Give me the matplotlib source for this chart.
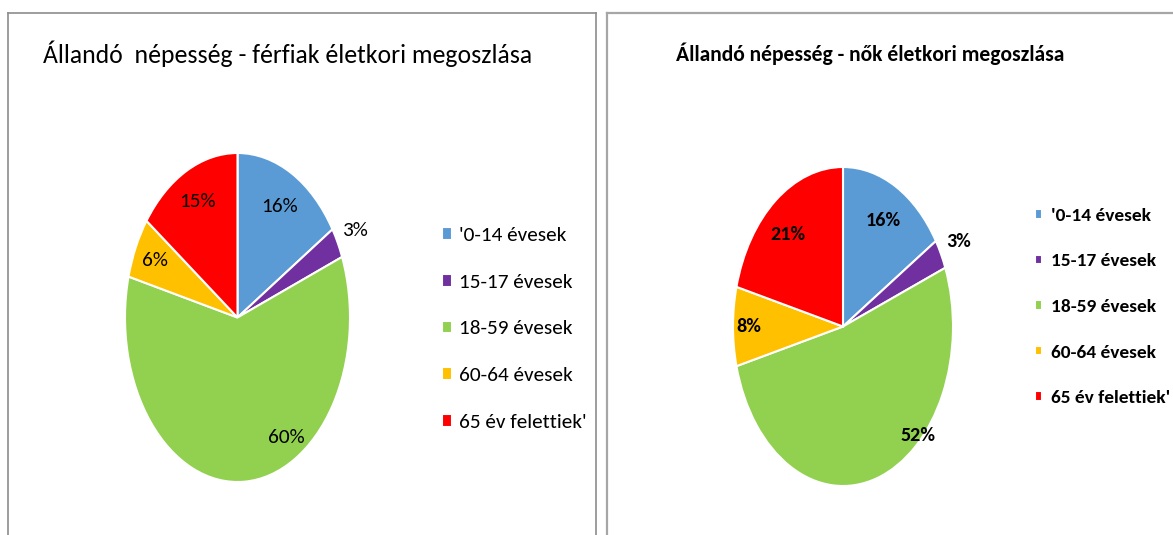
import numpy as np
import matplotlib.pyplot as plt
from matplotlib.lines import Line2D

## data
categories = ["'0-14 évesek", '15-17 évesek', '18-59 évesek', '60-64 évesek', "65 év felettiek'"]
men = [16, 3, 60, 6, 15]
women = [16, 3, 52, 8, 21]
title_men = 'Állandó  népesség - férfiak életkori megoszlása'
title_women = 'Állandó népesség - nők életkori megoszlása'

colors = ['#5B9BD5', '#7030A0', '#92D050', '#FFC000', '#FF0000']
# label placement (radius as fraction of pie radius, angle shift in degrees)
men_lab_r = [0.77, 1.17, 0.85, 0.81, 0.79]
men_lab_shift = [0, 0, 27, 0, 0]
women_lab_r = [0.76, 1.18, 0.97, 0.86, 0.76]
women_lab_shift = [0, 0, 27, 0, 3]

W, H = 1173, 535
fam = ['Liberation Sans Narrow', 'Carlito', 'Roboto Condensed', 'Liberation Sans', 'DejaVu Sans']
plt.rcParams['font.family'] = fam
fig = plt.figure(figsize=(W / 100, H / 100), dpi=100)
renderer = fig.canvas.get_renderer()

def px(x0, y0, x1, y1):
    # pixel box (top-left origin) -> figure fraction rect
    return [x0 / W, 1 - y1 / H, (x1 - x0) / W, (y1 - y0) / H]

def fit_size(s, target, weight='normal', start=16, cap=18):
    # font size so that string s is about target pixels wide
    t = fig.text(0, 0, s, fontsize=start, fontweight=weight)
    w = t.get_window_extent(renderer).width
    t.remove()
    return min(cap, start * target / w)

def draw_pie(rect, vals, lab_r, lab_shift, weight, fs):
    ax = fig.add_axes(rect)
    wedges, _ = ax.pie(vals, colors=colors, startangle=90, counterclock=False,
                       wedgeprops=dict(edgecolor='white', linewidth=1.5))
    ax.set_aspect('auto')
    ax.set_xlim(-1, 1)
    ax.set_ylim(-1, 1)
    total = float(sum(vals))
    cum = np.cumsum(vals) - np.array(vals) / 2.0
    for v, c, r, s in zip(vals, cum, lab_r, lab_shift):
        th = np.deg2rad(90 - 360 * c / total + s)
        ax.text(r * np.cos(th), r * np.sin(th), '%d%%' % v, ha='center', va='center',
                fontsize=fs, fontweight=weight, color='black')
    return wedges

pct_l = fit_size('60%', 37, 'normal', cap=16)
pct_r = fit_size('52%', 35, 'bold', cap=16)
w1 = draw_pie(px(125, 153, 350, 482), men, men_lab_r, men_lab_shift, 'normal', pct_l)
w2 = draw_pie(px(733, 167, 953, 486), women, women_lab_r, women_lab_shift, 'bold', pct_r)

## legends
leg_l = fit_size(categories[0], 108, 'normal', cap=17)
leg_r = fit_size(categories[0], 100, 'bold', cap=15.5)
fig.legend(w1, categories, loc='center left', bbox_to_anchor=(442 / W, 1 - 329 / H),
           frameon=False, labelspacing=(51 / 1.389 - leg_l) / leg_l,
           handlelength=7.5 / leg_l, handleheight=8.5 / leg_l,
           handletextpad=5 / leg_l, borderpad=0, borderaxespad=0,
           prop=dict(size=leg_l, family=fam))
fig.legend(w2, categories, loc='center left', bbox_to_anchor=(1035 / W, 1 - 307 / H),
           frameon=False, labelspacing=(49 / 1.389 - leg_r) / leg_r,
           handlelength=5.2 / leg_r, handleheight=5.2 / leg_r,
           handletextpad=6 / leg_r, borderpad=0, borderaxespad=0,
           prop=dict(weight='bold', size=leg_r, family=fam))

## titles
fig.text(288 / W, 1 - 54 / H, title_men, ha='center', va='center',
         fontsize=fit_size(title_men, 490, 'normal', cap=20))
fig.text(870 / W, 1 - 54 / H, title_women, ha='center', va='center',
         fontsize=fit_size(title_women, 390, 'bold', cap=20), fontweight='bold')

## panel borders
def seg(x0, y0, x1, y1, c, lw):
    fig.add_artist(Line2D([x0 / W, x1 / W], [1 - y0 / H, 1 - y1 / H], color=c, lw=lw,
                          transform=fig.transFigure))

seg(8, 13, 8, H + 5, '#8c8c8c', 1.2)
seg(8, 13, 596, 13, '#8c8c8c', 1.2)
seg(596, 13, 596, H + 5, '#8c8c8c', 1.2)
seg(607, 13, 607, H + 5, '#a6a6a6', 1.6)
seg(607, 13, W + 5, 13, '#a6a6a6', 1.6)

plt.savefig('out.png', dpi=100)
